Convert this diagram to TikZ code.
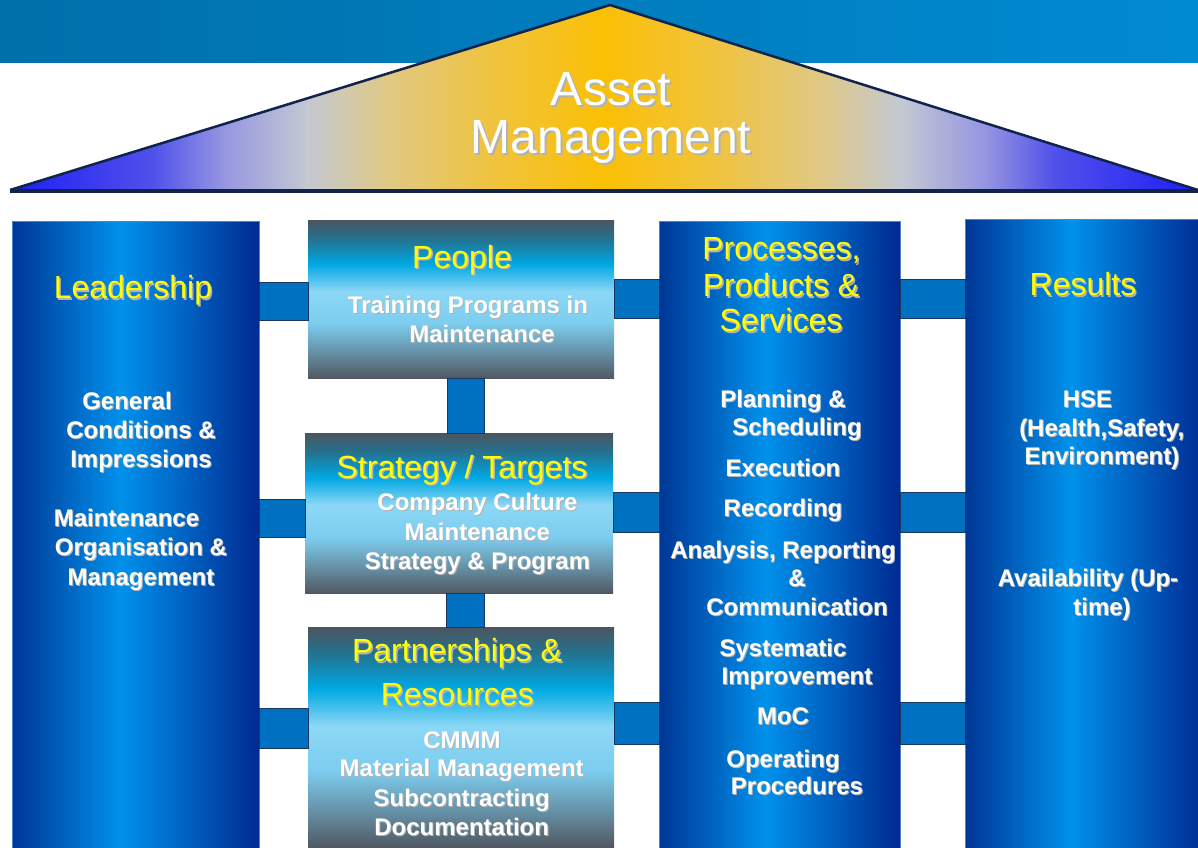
\documentclass[tikz,border=0pt]{standalone}
\usepackage{fontspec}
\setmainfont{Liberation Sans}

\definecolor{bandL}{RGB}{0,112,170}
\definecolor{bandR}{RGB}{0,138,210}
\definecolor{roofline}{RGB}{15,35,75}
\definecolor{barblue}{RGB}{0,112,192}
\definecolor{barline}{RGB}{25,55,100}
\definecolor{pillarline}{RGB}{80,130,210}
\definecolor{titleyellow}{RGB}{255,255,0}
% roof colours, edge to middle
\definecolor{roofA}{RGB}{30,30,245}
\definecolor{roofB}{RGB}{80,80,235}
\definecolor{roofC}{RGB}{150,150,225}
\definecolor{roofD}{RGB}{195,200,210}
\definecolor{roofE}{RGB}{225,200,130}
\definecolor{roofF}{RGB}{240,195,60}
\definecolor{roofG}{RGB}{250,192,5}
% pillar colours
\definecolor{pilA}{RGB}{0,55,150}
\definecolor{pilB}{RGB}{0,145,235}
\definecolor{pilC}{RGB}{0,42,145}
% theme box colours, bottom to top
\definecolor{boxE}{RGB}{80,88,98}
\definecolor{boxD}{RGB}{100,140,160}
\definecolor{boxC}{RGB}{125,205,240}
\definecolor{boxB}{RGB}{140,215,245}
\definecolor{boxBB}{RGB}{0,168,228}
\definecolor{boxA}{RGB}{35,115,145}
\definecolor{boxT}{RGB}{75,85,95}

\pgfdeclarehorizontalshading{roofshade}{100bp}{color(0bp)=(roofA); color(25bp)=(roofA);
  color(31bp)=(roofB); color(34bp)=(roofC); color(37.5bp)=(roofD); color(41bp)=(roofE);
  color(45.5bp)=(roofF); color(50bp)=(roofG); color(54.5bp)=(roofF); color(59bp)=(roofE);
  color(62.5bp)=(roofD); color(66bp)=(roofC); color(69bp)=(roofB); color(75bp)=(roofA);
  color(100bp)=(roofA)}
\pgfdeclarehorizontalshading{pillarshade}{100bp}{color(0bp)=(pilA); color(25bp)=(pilA);
  color(47bp)=(pilB); color(75bp)=(pilC); color(100bp)=(pilC)}
\pgfdeclareverticalshading{boxshade}{100bp}{color(0bp)=(boxE); color(25bp)=(boxE);
  color(32.5bp)=(boxD); color(42.5bp)=(boxC); color(52.5bp)=(boxB); color(61bp)=(boxBB);
  color(69bp)=(boxA); color(75bp)=(boxT); color(100bp)=(boxT)}

\newcommand{\txtshadow}[2][1pt]{\makebox[0pt][l]{\hspace{#1}\raisebox{-#1}{\textcolor{black!30}{#2}}}#2}

\begin{document}
\begin{tikzpicture}[x=1pt, y=-1pt,
  pillar/.style={shading=pillarshade, draw=pillarline, line width=0.8pt, anchor=north west, inner sep=0},
  theme/.style={shading=boxshade, anchor=north west, inner sep=0},
  bar/.style={fill=barblue, draw=barline, line width=0.8pt},
  roofText/.style={text=white, font=\fontsize{48}{52}\selectfont, anchor=base, inner sep=0},
  title/.style={text=titleyellow, font=\fontsize{32}{37}\selectfont, anchor=base, inner sep=0},
  item/.style={text=white, font=\bfseries\fontsize{24}{29}\selectfont, anchor=base, inner sep=0}]
\useasboundingbox (0,0) rectangle (1198,847);
% band and roof
\fill[left color=bandL, right color=bandR] (0,0) rectangle (1198,62);
\shade[shading=roofshade] (10,190) -- (610,5) -- (1198,190) -- cycle;
\draw[roofline, line width=2.5pt, line join=bevel] (10,190) -- (610,5) -- (1198,190);
\draw[roofline, line width=4pt] (10,191) -- (1198,191);
\node[roofText] (asset) at (611,105) {\txtshadow[2pt]{Asset}};
\node[roofText] (mgmt) at (611,153) {\txtshadow[2pt]{Management}};
% pillars and boxes
\node[pillar, minimum width=247, minimum height=632] (lead) at (12,221) {};
\node[theme, minimum width=306, minimum height=158] (people) at (308,220) {};
\node[theme, minimum width=308, minimum height=160] (strat) at (305,433) {};
\node[theme, minimum width=306, minimum height=220] (part) at (308,627) {};
\node[pillar, minimum width=241, minimum height=632] (proc) at (659,221) {};
\node[pillar, minimum width=240, minimum height=634] (res) at (965,219) {};
% connecting bars
\draw[bar] (lead.east |- 0,282) rectangle (people.west |- 0,320);
\draw[bar] (people.east |- 0,279) rectangle (proc.west |- 0,318);
\draw[bar] (proc.east |- 0,279) rectangle (res.west |- 0,318);
\draw[bar] (lead.east |- 0,499) rectangle (strat.west |- 0,537);
\draw[bar] (strat.east |- 0,492) rectangle (proc.west |- 0,532);
\draw[bar] (proc.east |- 0,492) rectangle (res.west |- 0,532);
\draw[bar] (lead.east |- 0,708) rectangle (part.west |- 0,748);
\draw[bar] (part.east |- 0,702) rectangle (proc.west |- 0,744);
\draw[bar] (proc.east |- 0,702) rectangle (res.west |- 0,744);
\draw[bar] (447,0 |- people.south) rectangle (484,0 |- strat.north);
\draw[bar] (446,0 |- strat.south) rectangle (484,0 |- part.north);
% leadership
\node[title] (leadT) at (133,298.5) {\txtshadow[1.5pt]{Leadership}};
\node[item] (lead1) at (127,409.5) {\txtshadow{General}};
\node[item] (lead2) at (141,438.5) {\txtshadow{Conditions \&}};
\node[item] (lead3) at (141,467.5) {\txtshadow{Impressions}};
\node[item] (lead4) at (126.5,526.5) {\txtshadow{Maintenance}};
\node[item] (lead5) at (141,555.5) {\txtshadow{Organisation \&}};
\node[item] (lead6) at (141,585.5) {\txtshadow{Management}};
% people
\node[title] (peopleT) at (462,268) {\txtshadow[1.5pt]{People}};
\node[item] (people1) at (468,313.5) {\txtshadow{Training Programs in}};
\node[item] (people2) at (482,342.5) {\txtshadow{Maintenance}};
% strategy
\node[title] (stratT) at (462,478) {\txtshadow[1.5pt]{Strategy / Targets}};
\node[item] (strat1) at (477.5,510) {\txtshadow{Company Culture}};
\node[item] (strat2) at (477.3,540) {\txtshadow{Maintenance}};
\node[item] (strat3) at (477.5,569.5) {\txtshadow{Strategy \& Program}};
% partnerships
\node[title] (partT1) at (457,661.5) {\txtshadow[1.5pt]{Partnerships \&}};
\node[title] (partT2) at (457.3,705.5) {\txtshadow[1.5pt]{Resources}};
\node[item] (part1) at (462,748) {\txtshadow{CMMM}};
\node[item] (part2) at (461.7,776.5) {\txtshadow{Material Management}};
\node[item] (part3) at (461.7,806) {\txtshadow{Subcontracting}};
\node[item] (part4) at (461.7,835) {\txtshadow{Documentation}};
% processes
\node[title] (procT1) at (781.5,259.5) {\txtshadow[1.5pt]{Processes,}};
\node[title] (procT2) at (781,296.5) {\txtshadow[1.5pt]{Products \&}};
\node[title] (procT3) at (781,331.5) {\txtshadow[1.5pt]{Services}};
\node[item] (proc1) at (783,407.5) {\txtshadow{Planning \&}};
\node[item] (proc2) at (797,435) {\txtshadow{Scheduling}};
\node[item] (proc3) at (783,476) {\txtshadow{Execution}};
\node[item] (proc4) at (783,516.5) {\txtshadow{Recording}};
\node[item] (proc5) at (783,558.5) {\txtshadow{Analysis, Reporting}};
\node[item] (proc6) at (797,586.5) {\txtshadow{\&}};
\node[item] (proc7) at (797,615) {\txtshadow{Communication}};
\node[item] (proc8) at (783,656) {\txtshadow{Systematic}};
\node[item] (proc9) at (797,684.5) {\txtshadow{Improvement}};
\node[item] (proc10) at (783,724.5) {\txtshadow{MoC}};
\node[item] (proc11) at (783,767.5) {\txtshadow{Operating}};
\node[item] (proc12) at (797,794.5) {\txtshadow{Procedures}};
% results
\node[title] (resT) at (1083,295.5) {\txtshadow[1.5pt]{Results}};
\node[item] (res1) at (1087.5,407.5) {\txtshadow{HSE}};
\node[item] (res2) at (1101.7,436) {\txtshadow{(Health,Safety,}};
\node[item] (res3) at (1102,464.5) {\txtshadow{Environment)}};
\node[item] (res4) at (1088,586.5) {\txtshadow{Availability (Up-}};
\node[item] (res5) at (1102,615) {\txtshadow{time)}};
\end{tikzpicture}
\end{document}
